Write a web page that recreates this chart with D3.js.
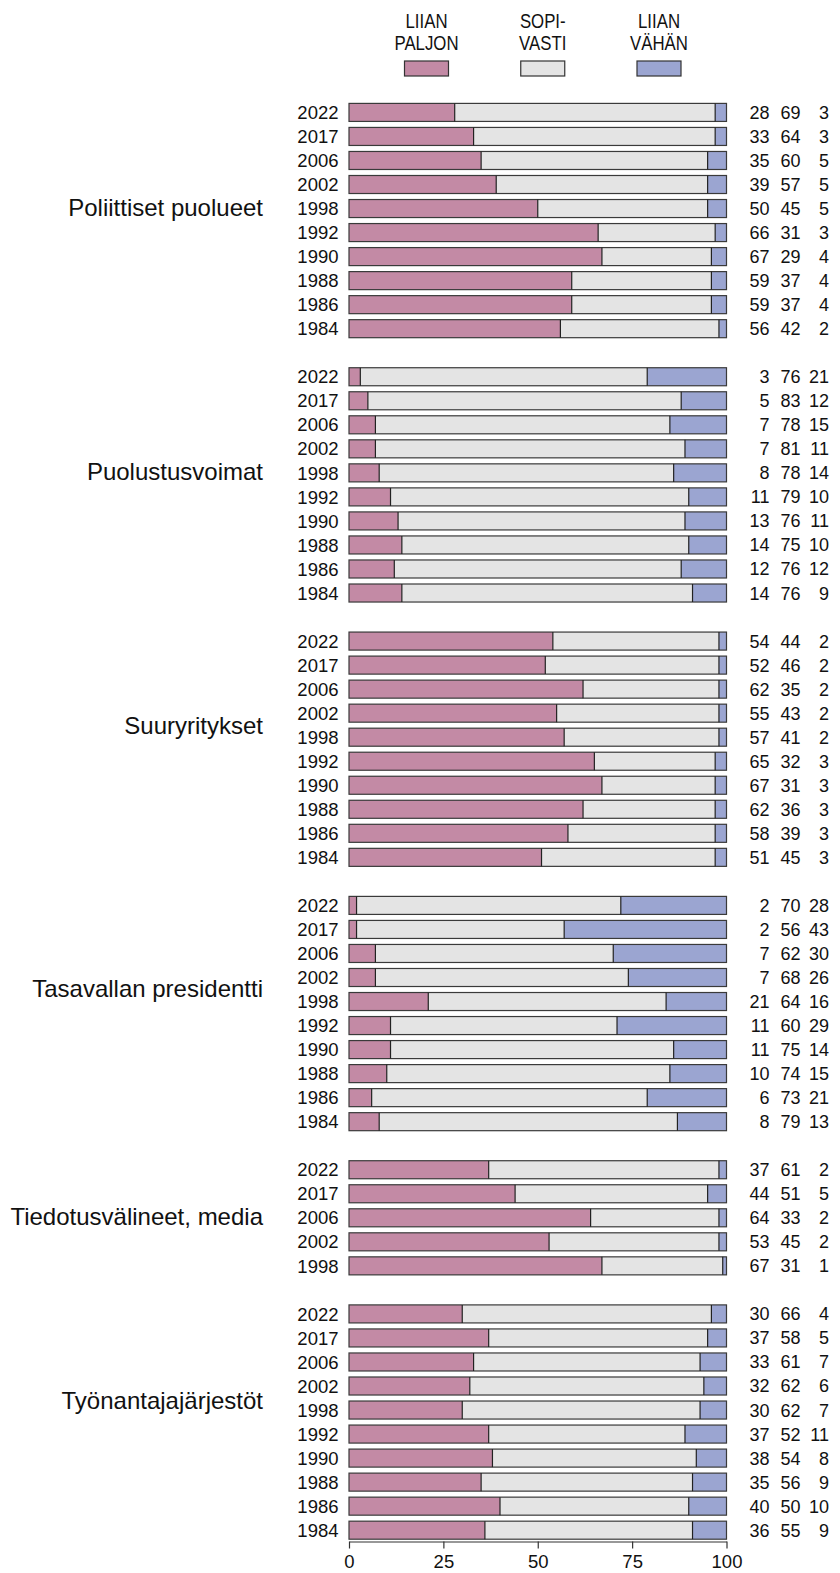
<!DOCTYPE html>
<html>
<head>
<meta charset="utf-8">
<script src="https://cdn.jsdelivr.net/npm/d3@7"></script>
<style>
  body { margin: 0; background: #fff; }
  svg text { font-family: "Liberation Sans", Arial, sans-serif; fill: #111; }
</style>
</head>
<body>
<div class="chart"></div>
<script>
// data
var groups = ["Poliittiset puolueet", "Puolustusvoimat", "Suuryritykset",
              "Tasavallan presidentti", "Tiedotusvälineet, media", "Työnantajajärjestöt"];
var years_all = ["2022", "2017", "2006", "2002", "1998", "1992", "1990", "1988", "1986", "1984"];
var years_media = ["2022", "2017", "2006", "2002", "1998"];
var group_years = [years_all, years_all, years_all, years_all, years_media, years_all];

var liian_paljon = [
  [28, 33, 35, 39, 50, 66, 67, 59, 59, 56],
  [3, 5, 7, 7, 8, 11, 13, 14, 12, 14],
  [54, 52, 62, 55, 57, 65, 67, 62, 58, 51],
  [2, 2, 7, 7, 21, 11, 11, 10, 6, 8],
  [37, 44, 64, 53, 67],
  [30, 37, 33, 32, 30, 37, 38, 35, 40, 36]
];
var sopivasti = [
  [69, 64, 60, 57, 45, 31, 29, 37, 37, 42],
  [76, 83, 78, 81, 78, 79, 76, 75, 76, 76],
  [44, 46, 35, 43, 41, 32, 31, 36, 39, 45],
  [70, 56, 62, 68, 64, 60, 75, 74, 73, 79],
  [61, 51, 33, 45, 31],
  [66, 58, 61, 62, 62, 52, 54, 56, 50, 55]
];
var liian_vahan = [
  [3, 3, 5, 5, 5, 3, 4, 4, 4, 2],
  [21, 12, 15, 11, 14, 10, 11, 10, 12, 9],
  [2, 2, 2, 2, 2, 3, 3, 3, 3, 3],
  [28, 43, 30, 26, 16, 29, 14, 15, 21, 13],
  [2, 5, 2, 2, 1],
  [4, 5, 7, 6, 7, 11, 8, 9, 10, 9]
];

var legend_labels = [["LIIAN", "PALJON"], ["SOPI-", "VASTI"], ["LIIAN", "VÄHÄN"]];
var colors = ["#c38aa5", "#e4e4e4", "#9ba5d1"];
var x_ticks = [0, 25, 50, 75, 100];

// where the group name sits, in rows below the group's first row
var label_offset = [3.97, 3.95, 3.5, 3.46, 1.94, 3.6];

var width = 840, height = 1573;

var svg = d3.select(".chart").append("svg")
  .attr("width", width)
  .attr("height", height);

// one flat list of rows, with an empty row between groups
var rows = [];
var row_ids = [];
groups.forEach(function(g, gi) {
  if (gi > 0) row_ids.push("gap" + gi);
  group_years[gi].forEach(function(yr, i) {
    var id = gi + "-" + yr;
    row_ids.push(id);
    rows.push({id: id, group: gi, year: yr,
               a: liian_paljon[gi][i], b: sopivasti[gi][i], c: liian_vahan[gi][i]});
  });
});

var x = d3.scaleLinear().domain([0, 100]).range([349, 726.5]);
var y = d3.scaleBand().domain(row_ids)
  .range([100.4, 1542.2])
  .paddingInner(0.25)
  .paddingOuter(0.125);

var row_g = svg.selectAll(".row")
  .data(rows)
  .enter()
  .append("g")
  .attr("class", "row")
  .attr("transform", function(d) { return "translate(0," + y(d.id) + ")"; });

var bh = y.bandwidth();

// pink from 0, blue up to 100, grey between
row_g.append("rect")
  .attr("x", x(0))
  .attr("width", function(d) { return x(d.a) - x(0); })
  .attr("height", bh)
  .attr("fill", colors[0]);
row_g.append("rect")
  .attr("x", function(d) { return x(d.a); })
  .attr("width", function(d) { return x(100 - d.c) - x(d.a); })
  .attr("height", bh)
  .attr("fill", colors[1]);
row_g.append("rect")
  .attr("x", function(d) { return x(100 - d.c); })
  .attr("width", function(d) { return x(100) - x(100 - d.c); })
  .attr("height", bh)
  .attr("fill", colors[2]);

// segment borders
row_g.append("rect")
  .attr("x", x(0))
  .attr("width", x(100) - x(0))
  .attr("height", bh)
  .attr("fill", "none")
  .attr("stroke", "#3a3a3a")
  .attr("stroke-width", 1.2);
row_g.selectAll(".sep")
  .data(function(d) { return [d.a, 100 - d.c]; })
  .enter()
  .append("line")
  .attr("x1", function(v) { return x(v); })
  .attr("x2", function(v) { return x(v); })
  .attr("y1", 0)
  .attr("y2", bh)
  .attr("stroke", "#222")
  .attr("stroke-width", 1.2);

// year labels
row_g.append("text")
  .attr("x", 338.5)
  .attr("y", bh / 2)
  .attr("dy", "0.36em")
  .attr("text-anchor", "end")
  .style("font-size", "18.5px")
  .text(function(d) { return d.year; });

// value columns
var value_x = [769.5, 800.5, 829];
row_g.selectAll(".val")
  .data(function(d) { return [d.a, d.b, d.c]; })
  .enter()
  .append("text")
  .attr("x", function(v, i) { return value_x[i]; })
  .attr("y", bh / 2)
  .attr("dy", "0.36em")
  .attr("text-anchor", "end")
  .style("font-size", "18px")
  .text(function(v) { return v; });

// group names
svg.selectAll(".group_label")
  .data(groups)
  .enter()
  .append("text")
  .attr("class", "group_label")
  .attr("x", 263)
  .attr("y", function(g, gi) {
    var first = y(gi + "-" + group_years[gi][0]) + bh / 2;
    return first + label_offset[gi] * y.step();
  })
  .attr("dy", "0.36em")
  .attr("text-anchor", "end")
  .style("font-size", "24px")
  .text(function(g) { return g; });

// axis
var axis_g = svg.append("g")
  .attr("transform", "translate(0,1541.5)")
  .call(d3.axisBottom(x).tickValues(x_ticks).tickSize(7).tickSizeOuter(0).tickPadding(6));
axis_g.select(".domain").attr("stroke", "#333").attr("stroke-width", 1.2);
axis_g.selectAll(".tick line").attr("stroke", "#333").attr("stroke-width", 1.2);
axis_g.selectAll(".tick text")
  .style("font-family", "'Liberation Sans', Arial, sans-serif")
  .style("font-size", "18.5px")
  .attr("fill", "#111");

// legend
var lx = d3.scalePoint().domain([0, 1, 2]).range([426.5, 659]);
var leg = svg.selectAll(".legend")
  .data(legend_labels)
  .enter()
  .append("g")
  .attr("class", "legend")
  .attr("transform", function(d, i) { return "translate(" + lx(i) + ",0)"; });

leg.append("rect")
  .attr("x", -22)
  .attr("y", 61)
  .attr("width", 44)
  .attr("height", 15)
  .attr("fill", function(d, i) { return colors[i]; })
  .attr("stroke", "#333")
  .attr("stroke-width", 1.2);

leg.selectAll("text")
  .data(function(d) { return d; })
  .enter()
  .append("text")
  .attr("text-anchor", "middle")
  .attr("transform", function(t, i) { return "translate(0," + (28 + i * 22) + ") scale(0.82,1)"; })
  .style("font-size", "20.5px")
  .text(function(t) { return t; });
</script>
</body>
</html>
